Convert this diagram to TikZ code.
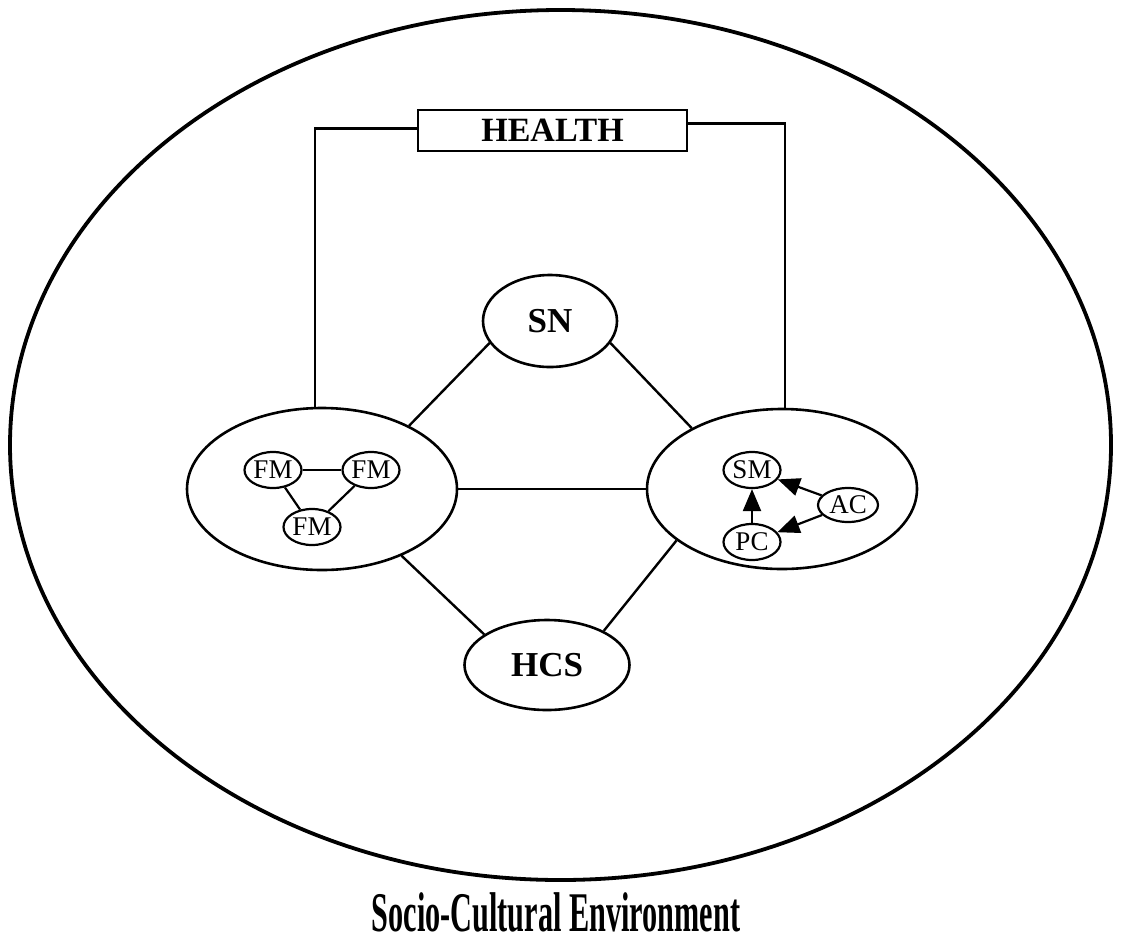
\documentclass[tikz,border=0pt]{standalone}
\usepackage{fontspec}
\setmainfont{Liberation Serif}
\usetikzlibrary{shapes.geometric,arrows.meta}

\tikzset{
  oval/.style={ellipse, draw, line width=2.6pt, inner sep=0pt, fill=white},
  bigoval/.style={oval, font=\fontsize{35}{37}\selectfont\bfseries},
  smalloval/.style={ellipse, draw, line width=2.2pt, inner sep=0pt,
    minimum width=57pt, minimum height=36pt, font=\fontsize{27}{29}\selectfont},
  link/.style={line width=2.4pt},
  inner link/.style={line width=2.2pt},
  push/.style={line width=2.2pt, -{Triangle[length=22pt,width=18pt]}},
}

\begin{document}
\begin{tikzpicture}[x=1pt,y=-1pt]
  \useasboundingbox (0,0) rectangle (1121,946);

  % surrounding environment
  \node[ellipse, draw, line width=3.8pt, inner sep=0pt,
        minimum width=1101pt, minimum height=870pt] (env) at (560.5,445) {};

  % health box at the top
  \node[draw, line width=2pt, inner sep=0pt, minimum width=269pt, minimum height=41pt,
        font=\fontsize{34}{36}\selectfont\bfseries] (health) at (552.5,130.5) {HEALTH};

  % main components
  \node[bigoval, minimum width=134pt, minimum height=92pt] (sn) at (550,321) {SN};
  \node[oval, minimum width=270pt, minimum height=162pt] (fam) at (322,489) {};
  \node[oval, minimum width=270pt, minimum height=160pt] (self) at (782,489) {};
  \node[bigoval, minimum width=165pt, minimum height=90pt] (hcs) at (547,665) {HCS};

  % family members
  \node[smalloval] (fm1) at (273,470) {FM};
  \node[smalloval] (fm2) at (371,470) {FM};
  \node[smalloval] (fm3) at (312,527) {FM};
  \draw[inner link] (fm1) -- (fm2);
  \draw[inner link] (fm1) -- (fm3);
  \draw[inner link] (fm2) -- (fm3);

  % self-management components
  \node[smalloval] (sm) at (752,470) {SM};
  \node[smalloval, minimum width=60pt, minimum height=34pt] (ac) at (848,505) {AC};
  \node[smalloval] (pc) at (752,542) {PC};
  \draw[push] (pc) -- (sm);
  \draw[push] (ac) -- (sm);
  \draw[push] (ac) -- (pc);

  % links between the components
  \draw[link] (fam.36) -- (sn.200);
  \draw[link] (sn.340) -- (self.146);
  \draw[link] (fam.east) -- (self.west);
  \draw[link] (fam.320) -- (hcs.154);
  \draw[link] (self.206) -- (hcs.31);

  % links to health
  \draw[link] ([yshift=2pt]health.west) -| (fam.95);
  \draw[link] ([yshift=7pt]health.east) -| (self.88);

  % caption
  \node[font=\fontsize{56}{58}\selectfont\bfseries] (caption) at (556,912)
    {\scalebox{0.54}[1]{Socio-Cultural Environment}};
\end{tikzpicture}
\end{document}
